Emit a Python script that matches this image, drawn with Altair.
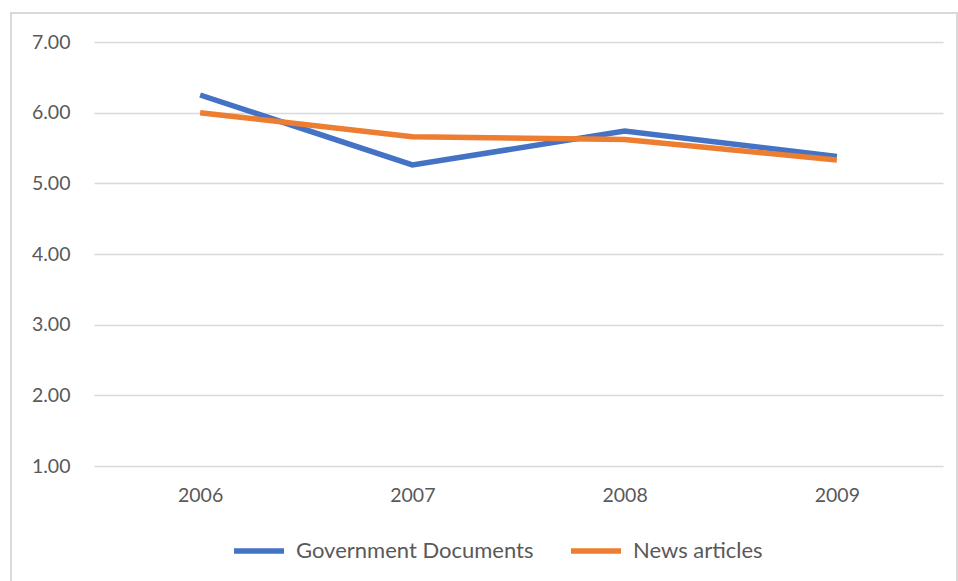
import altair as alt
import pandas as pd

years = ["2006", "2007", "2008", "2009"]
gov_docs = [6.25, 5.26, 5.74, 5.38]
news = [6.00, 5.66, 5.62, 5.33]
series_names = ["Government Documents", "News articles"]
colors = ["#4472C4", "#ED7D31"]
y_ticks = [1, 2, 3, 4, 5, 6, 7]

rows = []
for name, vals in zip(series_names, [gov_docs, news]):
    for yr, v in zip(years, vals):
        rows.append({"year": yr, "value": v, "series": name})
df = pd.DataFrame(rows)

FONT = "Lato"
TXT = "#595959"

lines = alt.Chart(df).mark_line(strokeWidth=5.5, strokeCap="butt", strokeJoin="miter").encode(
    x=alt.X("year:O", scale=alt.Scale(type="point", padding=0.5),
            axis=alt.Axis(title=None, labelAngle=0, domain=False, ticks=False, grid=False,
                          labelPadding=20, labelFontSize=19.5, labelColor=TXT, labelFont=FONT)),
    y=alt.Y("value:Q", scale=alt.Scale(domain=[1, 7], nice=False, zero=False),
            axis=alt.Axis(title=None, values=y_ticks, format=".2f", domain=False, ticks=False,
                          grid=True, gridColor="#D9D9D9", gridWidth=1.5, labelPadding=24,
                          labelFontSize=19.5, labelColor=TXT, labelFont=FONT)),
    color=alt.Color("series:N", scale=alt.Scale(domain=series_names, range=colors),
                    legend=alt.Legend(title=None, orient="none", direction="horizontal",
                                      legendX=137, legendY=481, symbolType="stroke",
                                      symbolSize=2500, symbolStrokeWidth=5.5, labelLimit=0,
                                      labelFontSize=22, labelColor=TXT, labelFont=FONT,
                                      columnPadding=26, labelOffset=9)),
)

frame = alt.Chart(df).mark_rect(filled=False, stroke="#D9D9D9", strokeWidth=1.5).encode(
    x=alt.value(-83), x2=alt.value(863), y=alt.value(-29), y2=alt.value(540)
)

chart = alt.layer(frame, lines).properties(
    width=849, height=424,
    autosize=alt.AutoSizeParams(type="none"),
    padding={"left": 94, "top": 42, "right": 15, "bottom": 115},
).configure(background="white", view=alt.ViewConfig(strokeWidth=0, stroke="transparent"))

chart.save("out.html", embed_options={"renderer": "svg", "actions": False})
